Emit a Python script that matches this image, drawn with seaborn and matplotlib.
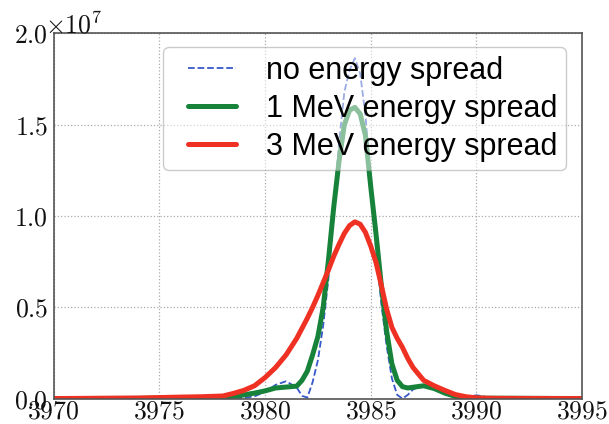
import seaborn as sns
import matplotlib.pyplot as plt
import matplotlib.ticker as mticker
from matplotlib.legend_handler import HandlerLine2D
import numpy as np
import pandas as pd

# wavelength grid (finer near the line centre)
wavelength = [3970, 3974, 3976, 3977, 3978, 3978.5, 3979, 3979.5, 3980, 3980.5,
              3981, 3981.5, 3981.75, 3982, 3982.25, 3982.5, 3982.75, 3983, 3983.25,
              3983.5, 3983.75, 3984, 3984.25, 3984.5, 3984.75, 3985, 3985.25,
              3985.5, 3985.75, 3986, 3986.25, 3986.5, 3986.75, 3987, 3987.5, 3988,
              3988.5, 3989, 3989.5, 3990, 3990.5, 3991, 3993, 3995]

# intensities in units of 1e7
no_spread = [0, 0, 0.002, 0.004, 0.005, 0.004, 0.004, 0.012, 0.037, 0.075,
             0.095, 0.06, 0.015, 0.005, 0.09, 0.21, 0.40, 0.66, 1.05,
             1.40, 1.68, 1.80, 1.865, 1.78, 1.55, 1.18, 0.82,
             0.52, 0.29, 0.11, 0.02, 0.0, 0.02, 0.05, 0.075, 0.06,
             0.025, 0.005, 0.008, 0.018, 0.008, 0.002, 0, 0]
spread_1mev = [0, 0.001, 0.004, 0.006, 0.008, 0.012, 0.02, 0.03, 0.042, 0.058,
               0.063, 0.068, 0.10, 0.15, 0.24, 0.34, 0.50, 0.76, 1.05,
               1.30, 1.50, 1.58, 1.595, 1.56, 1.44, 1.16, 0.90,
               0.62, 0.37, 0.19, 0.10, 0.065, 0.058, 0.062, 0.07, 0.055,
               0.03, 0.012, 0.005, 0.003, 0.002, 0.002, 0.001, 0]
spread_3mev = [0, 0.003, 0.008, 0.010, 0.014, 0.028, 0.045, 0.07, 0.115, 0.17,
               0.24, 0.33, 0.385, 0.44, 0.50, 0.565, 0.635, 0.705, 0.78,
               0.845, 0.905, 0.948, 0.968, 0.955, 0.91, 0.835, 0.745,
               0.62, 0.49, 0.39, 0.33, 0.28, 0.22, 0.17, 0.10, 0.07,
               0.045, 0.022, 0.01, 0.004, 0.002, 0.001, 0.0005, 0]

labels = ["no energy spread", "1 MeV energy spread", "3 MeV energy spread"]
scale = 1e7

df = pd.DataFrame({
    "wl": wavelength * 3,
    "I": [v * scale for v in no_spread + spread_1mev + spread_3mev],
    "case": [labels[0]] * len(wavelength) + [labels[1]] * len(wavelength) + [labels[2]] * len(wavelength),
})


class PaddedLine(HandlerLine2D):
    # old-style legend: handle sits a bit further in from the frame
    def create_artists(self, legend, orig_handle, xdescent, ydescent, width, height, fontsize, trans):
        arts = super().create_artists(legend, orig_handle, xdescent, ydescent, width, height, fontsize, trans)
        for a in arts:
            x = np.asarray(a.get_xdata(), dtype=float)
            if len(x) > 1:
                a.set_xdata(np.linspace(x[0] + 0.55 * fontsize, x[-1], len(x)))
        return arts


sns.set_style("whitegrid")
plt.rcParams["mathtext.fontset"] = "cm"
plt.rcParams["font.family"] = ["Liberation Sans", "DejaVu Sans"]

fig = plt.figure(figsize=(6.09, 4.24), dpi=100)
ax = fig.add_axes([0.088, 0.06, 0.868, 0.861])

sns.lineplot(data=df[df.case == labels[0]], x="wl", y="I", ax=ax, color="#3658c8",
             linestyle="--", linewidth=1.3, label=labels[0])
sns.lineplot(data=df[df.case == labels[1]], x="wl", y="I", ax=ax, color="#17823a",
             linewidth=3.6, label=labels[1])
sns.lineplot(data=df[df.case == labels[2]], x="wl", y="I", ax=ax, color="#ef3124",
             linewidth=3.6, label=labels[2])

ax.set_xlim(3970, 3995)
ax.set_ylim(0, 2.0e7)
ax.set_xticks(range(3970, 3996, 5))
ax.set_yticks([0, 0.5e7, 1.0e7, 1.5e7, 2.0e7])
ax.xaxis.set_major_formatter(mticker.FuncFormatter(lambda v, p: f"${v:.0f}$"))
ax.yaxis.set_major_formatter(mticker.FuncFormatter(lambda v, p: f"${v / scale:.1f}$"))
ax.tick_params(axis="both", labelsize=18.5, length=0, colors="#111111")
ax.tick_params(axis="x", pad=1)
ax.tick_params(axis="y", pad=4)
ax.set_xlabel("")
ax.set_ylabel("")
ax.grid(True, color="#aaaaaa", linestyle=":", linewidth=0.9)
for s in ax.spines.values():
    s.set_color("#555555")
    s.set_linewidth(1.2)

ax.text(-0.016, 1.0, r"$\times10^{7}$", transform=ax.transAxes, fontsize=18.5,
        ha="left", va="baseline", color="#111111")

leg = ax.legend(loc="upper right", bbox_to_anchor=(0.969, 0.962), borderaxespad=0,
                fontsize=22, handlelength=2.12, handletextpad=1.0, labelspacing=0.27,
                borderpad=0.27, framealpha=0.5, fancybox=True, edgecolor="#999999",
                handler_map={plt.Line2D: PaddedLine()})
leg.get_frame().set_linewidth(1.0)
for t in leg.get_texts():
    t.set_color("black")

fig.savefig("out.png", dpi=100)
